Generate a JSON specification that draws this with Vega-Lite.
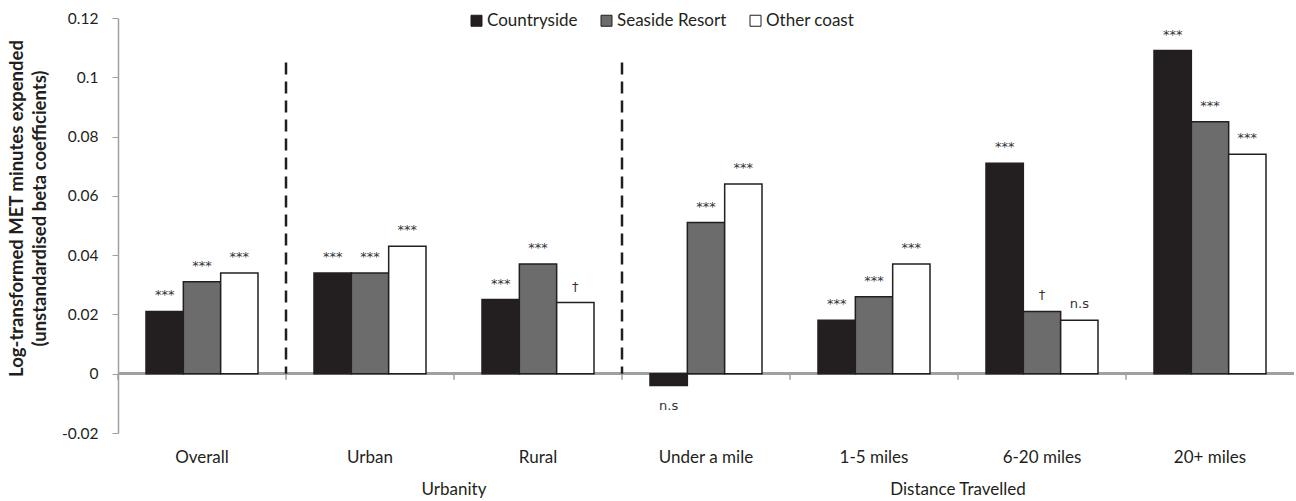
{
  "$schema": "https://vega.github.io/schema/vega-lite/v6.json",
  "width": 1176,
  "height": 415,
  "autosize": "none",
  "padding": {"left": 118, "top": 18, "right": 2, "bottom": 68},
  "config": {"font": "Lato", "view": {"stroke": null}},
  "datasets": {
    "bars": [
      {"cat": "Overall", "series": "Countryside", "value": 0.021, "sig": "***"},
      {"cat": "Overall", "series": "Seaside Resort", "value": 0.031, "sig": "***"},
      {"cat": "Overall", "series": "Other coast", "value": 0.034, "sig": "***"},
      {"cat": "Urban", "series": "Countryside", "value": 0.034, "sig": "***"},
      {"cat": "Urban", "series": "Seaside Resort", "value": 0.034, "sig": "***"},
      {"cat": "Urban", "series": "Other coast", "value": 0.043, "sig": "***"},
      {"cat": "Rural", "series": "Countryside", "value": 0.025, "sig": "***"},
      {"cat": "Rural", "series": "Seaside Resort", "value": 0.037, "sig": "***"},
      {"cat": "Rural", "series": "Other coast", "value": 0.024, "sig": "†"},
      {"cat": "Under a mile", "series": "Countryside", "value": -0.004, "sig": "n.s"},
      {"cat": "Under a mile", "series": "Seaside Resort", "value": 0.051, "sig": "***"},
      {"cat": "Under a mile", "series": "Other coast", "value": 0.064, "sig": "***"},
      {"cat": "1-5 miles", "series": "Countryside", "value": 0.018, "sig": "***"},
      {"cat": "1-5 miles", "series": "Seaside Resort", "value": 0.026, "sig": "***"},
      {"cat": "1-5 miles", "series": "Other coast", "value": 0.037, "sig": "***"},
      {"cat": "6-20 miles", "series": "Countryside", "value": 0.071, "sig": "***"},
      {"cat": "6-20 miles", "series": "Seaside Resort", "value": 0.021, "sig": "†"},
      {"cat": "6-20 miles", "series": "Other coast", "value": 0.018, "sig": "n.s"},
      {"cat": "20+ miles", "series": "Countryside", "value": 0.109, "sig": "***"},
      {"cat": "20+ miles", "series": "Seaside Resort", "value": 0.085, "sig": "***"},
      {"cat": "20+ miles", "series": "Other coast", "value": 0.074, "sig": "***"}
    ],
    "dividers": [{"cat": "Urban"}, {"cat": "Under a mile"}],
    "groups": [
      {"cat": "Rural", "label": "Urbanity"},
      {"cat": "6-20 miles", "label": "Distance Travelled"}
    ]
  },
  "encoding": {
    "x": {
      "field": "cat",
      "type": "nominal",
      "scale": {
        "domain": ["Overall", "Urban", "Rural", "Under a mile", "1-5 miles", "6-20 miles", "20+ miles"],
        "paddingInner": 0.3333,
        "paddingOuter": 0.16667
      },
      "axis": {
        "title": null,
        "domain": false,
        "ticks": false,
        "labelAngle": 0,
        "labelPadding": 16,
        "labelFontSize": 17,
        "labelColor": "#231f20"
      }
    }
  },
  "layer": [
    {
      "data": {"name": "bars"},
      "transform": [{"filter": "datum.series == 'Countryside'"}],
      "mark": {"type": "rule", "stroke": "#a0a0a0", "strokeWidth": 1.5},
      "encoding": {
        "x": {"field": "cat", "type": "nominal", "bandPosition": -0.25},
        "y": {"datum": 0, "type": "quantitative"},
        "y2": {"datum": -0.002}
      }
    },
    {
      "data": {"name": "bars"},
      "mark": {"type": "rule", "stroke": "#a0a0a0", "strokeWidth": 2},
      "encoding": {
        "x": null,
        "y": {"datum": 0, "type": "quantitative"}
      }
    },
    {
      "data": {"name": "bars"},
      "mark": {"type": "bar", "stroke": "#231f20", "strokeWidth": 1.5},
      "encoding": {
        "xOffset": {
          "field": "series",
          "type": "nominal",
          "sort": ["Countryside", "Seaside Resort", "Other coast"],
          "scale": {"paddingInner": 0, "paddingOuter": 0}
        },
        "y": {
          "field": "value",
          "type": "quantitative",
          "scale": {"domain": [-0.02, 0.12], "nice": false, "zero": false},
          "axis": {
            "values": [-0.02, 0, 0.02, 0.04, 0.06, 0.08, 0.1, 0.12],
            "labelExpr": "'' + round(datum.value * 100) / 100",
            "grid": false,
            "domainColor": "#a0a0a0",
            "domainWidth": 1.5,
            "tickColor": "#a0a0a0",
            "tickSize": 6,
            "labelFontSize": 15.5,
            "labelColor": "#231f20",
            "labelPadding": 14,
            "title": ["Log-transformed MET minutes expended", "(unstandardised beta coefficients)"],
            "titleFontSize": 18.5,
            "titleLineHeight": 23,
            "titleFontWeight": "bold",
            "titleColor": "#231f20",
            "titlePadding": 12,
            "titleY": 190
          }
        },
        "fill": {
          "field": "series",
          "type": "nominal",
          "sort": ["Countryside", "Seaside Resort", "Other coast"],
          "scale": {
            "domain": ["Countryside", "Seaside Resort", "Other coast"],
            "range": ["#231f20", "#6c6c6c", "#ffffff"]
          },
          "legend": {
            "title": null,
            "orient": "none",
            "legendX": 350,
            "legendY": -6,
            "direction": "horizontal",
            "symbolType": "square",
            "symbolSize": 121,
            "symbolStrokeColor": "#231f20",
            "symbolStrokeWidth": 1,
            "labelFontSize": 17,
            "labelColor": "#231f20",
            "columnPadding": 20,
            "labelOffset": 2
          }
        }
      }
    },
    {
      "data": {"name": "bars"},
      "transform": [{"filter": "datum.value >= 0"}],
      "mark": {"type": "text", "font": "DejaVu Sans", "fontSize": 13, "color": "#333333", "baseline": "alphabetic", "dy": -12},
      "encoding": {
        "xOffset": {"field": "series", "type": "nominal", "sort": ["Countryside", "Seaside Resort", "Other coast"]},
        "y": {"field": "value", "type": "quantitative"},
        "text": {"field": "sig"}
      }
    },
    {
      "data": {"name": "bars"},
      "transform": [{"filter": "datum.value < 0"}],
      "mark": {"type": "text", "font": "DejaVu Sans", "fontSize": 13, "color": "#333333", "baseline": "alphabetic", "dy": 24},
      "encoding": {
        "xOffset": {"field": "series", "type": "nominal", "sort": ["Countryside", "Seaside Resort", "Other coast"]},
        "y": {"field": "value", "type": "quantitative"},
        "text": {"field": "sig"}
      }
    },
    {
      "data": {"name": "dividers"},
      "mark": {"type": "rule", "stroke": "#231f20", "strokeWidth": 2.5, "strokeDash": [12, 7]},
      "encoding": {
        "x": {"field": "cat", "type": "nominal", "bandPosition": -0.25},
        "y": {"datum": 0.105, "type": "quantitative"},
        "y2": {"datum": 0}
      }
    },
    {
      "data": {"name": "groups"},
      "mark": {"type": "text", "fontSize": 17, "color": "#231f20", "baseline": "middle", "dy": 57},
      "encoding": {
        "x": {"field": "cat", "type": "nominal", "bandPosition": -0.25},
        "y": {"datum": -0.02, "type": "quantitative"},
        "text": {"field": "label"}
      }
    }
  ]
}
